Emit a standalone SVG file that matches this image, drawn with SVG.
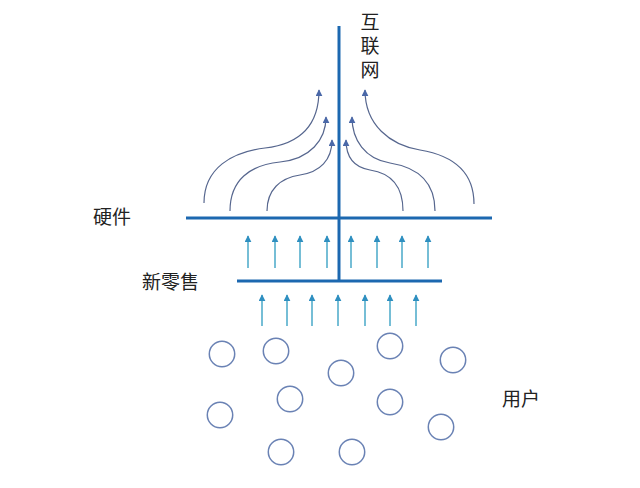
<svg xmlns="http://www.w3.org/2000/svg" width="640" height="488" viewBox="0 0 640 488">
<defs>
<marker id="ah" viewBox="0 0 10 10" refX="9" refY="5" markerWidth="7" markerHeight="7" markerUnits="userSpaceOnUse" orient="auto">
<path d="M0,0 L10,5 L0,10 Z" fill="#4a68a8"/>
</marker>
<marker id="ah2" viewBox="0 0 10 10" refX="9" refY="5" markerWidth="7" markerHeight="7" markerUnits="userSpaceOnUse" orient="auto">
<path d="M0,0 L10,5 L0,10 Z" fill="#2f8fc0"/>
</marker>
</defs>
<style>
.bar{stroke:#1c68b0;stroke-width:3;fill:none}
.curve{stroke:#56668e;stroke-width:1.2;fill:none;marker-end:url(#ah)}
.up{stroke:#48a8c8;stroke-width:1.5;fill:none;marker-end:url(#ah2)}
.user{fill:none;stroke:#6a82b4;stroke-width:1.5}
.lbl{font-family:"Noto Sans CJK SC","Noto Sans",sans-serif;font-size:19px;fill:#222}
</style>
<rect width="640" height="488" fill="#ffffff"/>
<g id="bars">
<line class="bar" x1="339" y1="26" x2="339" y2="282"/>
<line class="bar" x1="186" y1="218" x2="492" y2="218"/>
<line class="bar" x1="237" y1="281" x2="442" y2="281"/>
</g>
<g id="connectors">
<path class="curve" d="M204,203 C204,168 232,152 265,148 C300,144 319,125 319,90"/>
<path class="curve" d="M230,211 C230,180 250,165 280,162 C310,159 326,140 326,117"/>
<path class="curve" d="M267,211 C267,190 280,178 300,175 C320,172 332,160 332,140"/>
<path class="curve" d="M403,211 C403,185 390,173 370,170 C352,167 346,155 346,140"/>
<path class="curve" d="M435,211 C435,180 415,167 390,163 C365,159 352,140 352,117"/>
<path class="curve" d="M474,204 C474,170 450,155 420,150 C390,145 365,125 365,90"/>
<line class="up" x1="248" y1="268" x2="248" y2="236"/>
<line class="up" x1="275" y1="268" x2="275" y2="236"/>
<line class="up" x1="300" y1="268" x2="300" y2="236"/>
<line class="up" x1="327" y1="268" x2="327" y2="236"/>
<line class="up" x1="351" y1="268" x2="351" y2="236"/>
<line class="up" x1="377" y1="268" x2="377" y2="236"/>
<line class="up" x1="402" y1="268" x2="402" y2="236"/>
<line class="up" x1="428" y1="268" x2="428" y2="236"/>
<line class="up" x1="262" y1="326" x2="262" y2="295"/>
<line class="up" x1="287" y1="326" x2="287" y2="295"/>
<line class="up" x1="312" y1="326" x2="312" y2="295"/>
<line class="up" x1="338" y1="326" x2="338" y2="295"/>
<line class="up" x1="365" y1="326" x2="365" y2="295"/>
<line class="up" x1="390" y1="326" x2="390" y2="295"/>
<line class="up" x1="416" y1="326" x2="416" y2="295"/>
</g>
<g id="users">
<circle class="user" cx="222" cy="354" r="12.7"/>
<circle class="user" cx="276" cy="351" r="12.7"/>
<circle class="user" cx="390" cy="346" r="12.7"/>
<circle class="user" cx="453" cy="360" r="12.7"/>
<circle class="user" cx="341" cy="373" r="12.7"/>
<circle class="user" cx="290" cy="399" r="12.7"/>
<circle class="user" cx="390" cy="402" r="12.7"/>
<circle class="user" cx="220" cy="415" r="12.7"/>
<circle class="user" cx="441" cy="427" r="12.7"/>
<circle class="user" cx="281" cy="452" r="12.7"/>
<circle class="user" cx="352" cy="452" r="12.7"/>
</g>
<g id="label-internet">
<text class="lbl" x="370" y="12" style="writing-mode:vertical-rl;letter-spacing:5px">互联网</text>
</g>
<g id="label-hardware"><text class="lbl" x="93" y="224">硬件</text></g>
<g id="label-retail"><text class="lbl" x="142" y="289">新零售</text></g>
<g id="label-users"><text class="lbl" x="502" y="406">用户</text></g>
</svg>
